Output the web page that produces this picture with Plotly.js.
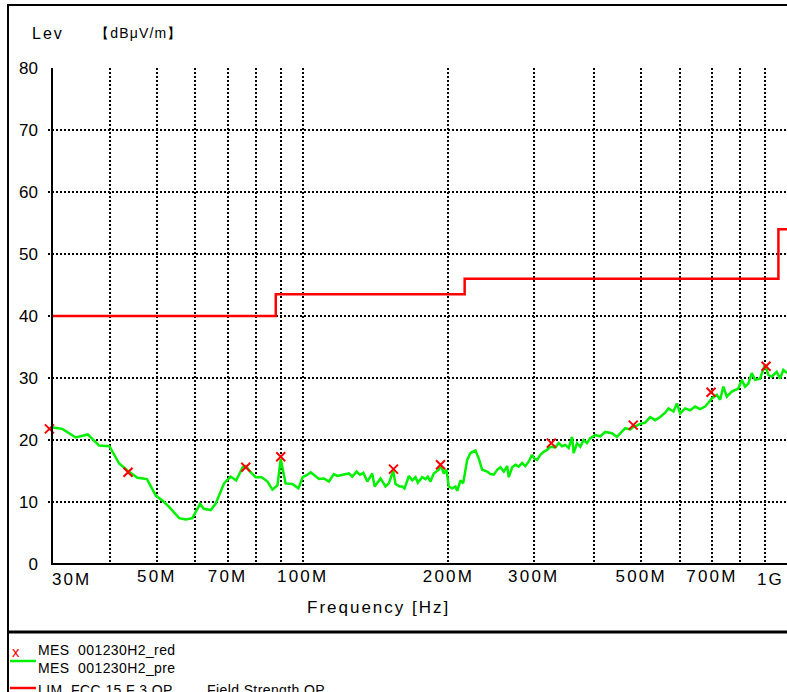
<!DOCTYPE html>
<html>
<head>
<meta charset="utf-8">
<script src="https://cdn.plot.ly/plotly-3.0.1.min.js"></script>
<style>
html,body{margin:0;padding:0;background:#fff;}
#chart{width:787px;height:692px;}
.main-svg text{letter-spacing:2px;}
.xtick text{letter-spacing:2.2px;}
.ytick text{letter-spacing:0px;}
.annotation[data-index="1"] text{letter-spacing:1.2px;}
.annotation[data-index="6"] text,
.annotation[data-index="7"] text,
.annotation[data-index="8"] text,
.annotation[data-index="9"] text{letter-spacing:0.4px;}
</style>
</head>
<body>
<div id="chart"></div>
<script>
// ---- data (frequency in MHz, level in dBµV/m) ----
const greenFreq = [30.5,31.9,34.0,36.0,38.0,39.9,41.8,43.6,45.6,47.7,49.8,51.4,53.0,55.6,57.4,59.2,61.4,62.5,64.6,66.1,68.8,71.0,72.9,75.2,76.3,78.1,80.0,82.3,84.6,86.6,88.7,90.1,92.2,95.2,98.0,100,102.3,103.9,108.1,110.6,113.3,116.0,117.9,121.7,124.6,126.6,129.2,131.3,133.4,136.0,139.2,140.8,144.8,148.3,150.6,153.8,155.5,158.7,160.5,162.3,165.7,168.4,171.0,172.9,176.5,179.3,181.3,183.6,186.5,191.0,192.6,195.6,198.1,200.3,203.6,206.8,208.5,211.8,214.5,218.6,222.1,227.4,231.0,234.8,240.4,244.2,248.1,252.1,256.1,260.2,264.4,266.4,270.8,275.0,279.3,283.8,288.3,292.8,297.6,300.9,304.8,309.6,314.5,319.6,324.6,332.4,337.7,343.2,348.7,354.2,359.9,362.7,368.6,374.4,380.2,386.4,392.5,401.9,411.5,421.4,435.1,445.5,456.2,463.5,474.6,481.4,486.0,497.6,509.6,521.8,534.3,547.1,560.4,569.2,582.9,592.4,601.7,616.2,631.0,646.1,661.6,677.5,688.2,699.3,716.3,727.6,739.1,751.1,769.1,781.3,793.6,806.5,819.3,832.2,845.8,859.1,879.7,900.8,915.1,929.9,952.4,967.5,982.7,1000];
const greenLev = [22.0,21.8,20.4,20.9,19.1,19.0,16.2,15.0,13.9,13.7,11.0,10.2,9.2,7.4,7.2,7.4,9.7,8.9,8.7,9.7,13.0,14.1,13.5,15.6,15.8,14.8,14.0,14.0,13.3,12.0,12.7,16.9,13.0,12.9,12.2,14.0,14.4,14.8,13.7,13.8,13.3,14.5,14.2,14.4,14.6,14.1,14.9,14.4,14.7,13.3,14.6,12.5,13.8,12.5,13.0,15.0,12.9,12.5,12.5,12.2,14.2,13.5,14.0,13.1,14.0,13.7,14.1,13.3,14.6,15.2,16.0,14.6,15.2,12.5,12.2,12.5,11.8,13.5,13.0,16.8,17.9,18.3,17.0,15.2,14.9,14.5,14.4,15.2,15.6,14.9,15.8,14.0,15.6,16.0,15.7,16.3,15.8,16.5,17.6,17.0,16.8,17.6,18.1,18.4,18.9,18.8,19.5,19.0,19.2,18.7,20.5,17.9,19.5,18.9,20.0,19.5,20.3,20.8,20.6,21.3,21.1,20.5,21.3,21.9,21.7,22.1,22.2,22.6,22.8,23.7,23.2,23.7,24.4,25.1,24.6,25.9,24.3,25.1,24.8,25.4,25.0,25.4,26.0,26.7,27.3,26.5,28.6,27.0,27.8,28.1,28.3,29.7,28.6,29.1,30.8,29.7,29.9,32.2,30.5,30.2,31.0,29.9,31.3,30.8];

const markFreq = [30,43.6,76.3,90.1,154.0,192.6,326.2,481.4,697.0,905.1];
const markLev  = [21.8,14.8,15.6,17.3,15.3,16.0,19.5,22.4,27.7,31.9];

const limitFreq = [30.5,88,216,960,1000];
const limitLev  = [40,43.5,46,54,54];

const xTickVals = [40,50,60,70,80,90,100,200,300,400,500,600,700,800,900,1000];
const xTickText = ['','50M','','70M','','','100M','200M','300M','','500M','','700M','','',''];
const xEdgeLabels = ['30M','1G'];
const yTickVals = [0,10,20,30,40,50,60,70,80];

const seriesNames = ['MES  001230H2_red','MES  001230H2_pre','LIM  FCC 15 F 3 QP'];
const limitNote = 'Field Strength QP';
const yTitle = 'Lev';
const yUnit = '【dBμV/m】';
const xTitle = 'Frequency [Hz]';

// ---- layout helpers (pixel -> paper) ----
const L=48, T=68, W=739, H=496;
const px = p => (p - L) / W;
const py = p => (T + H - p) / H;
const FONT = 'Liberation Sans, Arial, Helvetica, sans-serif';

const traces = [
  {x: greenFreq, y: greenLev, type:'scatter', mode:'lines', name: seriesNames[1],
   line:{color:'#00f000', width:2.5}, hoverinfo:'skip'},
  {x: limitFreq, y: limitLev, type:'scatter', mode:'lines', name: seriesNames[2],
   line:{color:'#ff0000', width:2.5, shape:'hv'}, hoverinfo:'skip'},
  {x: markFreq, y: markLev, type:'scatter', mode:'markers', name: seriesNames[0],
   marker:{symbol:'x-thin-open', size:9, color:'#ff0000', line:{color:'#ff0000', width:2}},
   cliponaxis:false, hoverinfo:'skip'}
];

function ann(text, x, y, xanchor, size, color){
  return {text:text, xref:'paper', yref:'paper', x:x, y:y, xanchor:xanchor,
    yanchor:'middle', align:xanchor==='center'?'center':xanchor, showarrow:false,
    font:{family:FONT, size:size, color:color||'#000'}};
}

const annotations = [
  ann(yTitle, px(30), py(33), 'left', 16),
  ann(yUnit, px(93), py(33), 'left', 14),
  ann(xTitle, px(378), py(607), 'center', 17),
  ann(xEdgeLabels[0], px(50), py(579), 'left', 17),
  ann(xEdgeLabels[1], px(786), py(579), 'right', 17),
  ann('x', px(10), py(651), 'left', 15, '#ff0000'),
  ann(seriesNames[0], px(36), py(650), 'left', 14),
  ann(seriesNames[1], px(36), py(668), 'left', 14),
  ann(seriesNames[2], px(36), py(690), 'left', 14),
  ann(limitNote, px(205), py(690), 'left', 14)
];

const shapes = [
  {type:'rect', xref:'paper', yref:'paper', x0: px(8), x1: px(820), y0: py(5), y1: py(720), line:{color:'#000', width:2}, fillcolor:'rgba(0,0,0,0)'},
  {type:'line', xref:'paper', yref:'paper', x0: px(8), x1: px(820), y0: py(632), y1: py(632), line:{color:'#000', width:3}},
  {type:'line', xref:'paper', yref:'paper', x0: px(52), x1: px(52), y0: py(68), y1: py(565), line:{color:'#000', width:2}},
  {type:'line', xref:'paper', yref:'paper', x0: px(51), x1: px(787), y0: py(564), y1: py(564), line:{color:'#000', width:2}},
  {type:'line', xref:'paper', yref:'paper', x0: px(10), x1: px(36), y0: py(661), y1: py(661), line:{color:'#00f000', width:2.5}},
  {type:'line', xref:'paper', yref:'paper', x0: px(10), x1: px(36), y0: py(688), y1: py(688), line:{color:'#ff0000', width:2.5}}
];

const gridStyle = {showgrid:true, gridcolor:'#000', gridwidth:2, griddash:'2px,2px'};

const layout = {
  width:787, height:692,
  margin:{l:L, r:787-L-W, t:T, b:692-T-H, pad:0},
  paper_bgcolor:'#fff', plot_bgcolor:'#fff',
  showlegend:false,
  font:{family:FONT, size:16, color:'#000'},
  xaxis: Object.assign({
    type:'log', range:[Math.log10(29.8), 3],
    tickmode:'array', tickvals:xTickVals, ticktext:xTickText,
    ticks:'', showline:false, zeroline:false,
    tickfont:{family:FONT, size:17, color:'#000'}, ticklabelstandoff:0
  }, gridStyle),
  yaxis: Object.assign({
    range:[0,80], tickmode:'array', tickvals:yTickVals,
    ticks:'', showline:false, zeroline:false,
    tickfont:{family:FONT, size:17, color:'#000'}, ticklabelstandoff:9
  }, gridStyle),
  annotations: annotations,
  shapes: shapes
};

Plotly.newPlot('chart', traces, layout, {displayModeBar:false, staticPlot:true});
</script>
</body>
</html>
